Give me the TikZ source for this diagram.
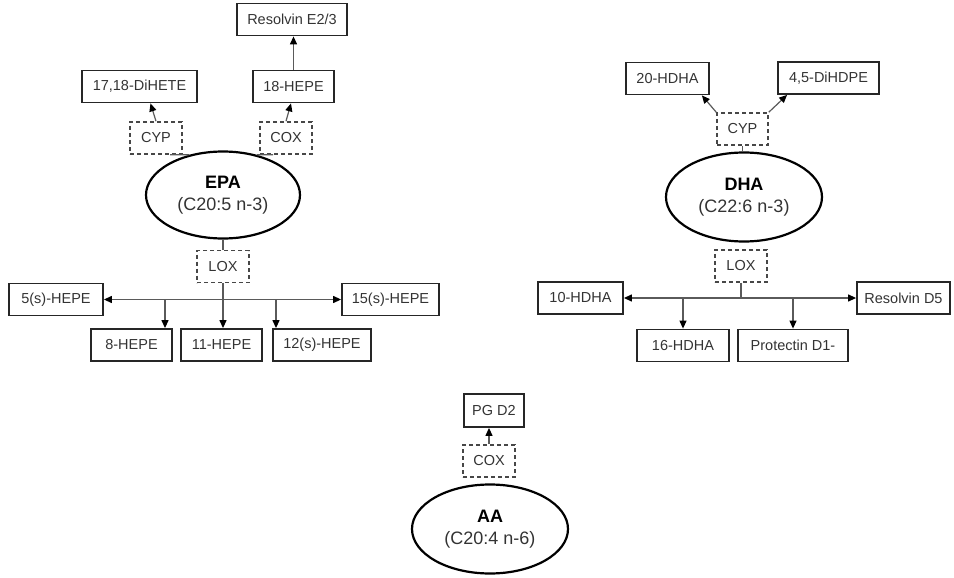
\documentclass[tikz,border=0pt]{standalone}
\usepackage{fontspec}
\setmainfont{Liberation Sans}
\usetikzlibrary{arrows.meta,calc,shapes.geometric}
\definecolor{txt}{HTML}{333333}
\definecolor{edge}{HTML}{262626}
\definecolor{conn}{HTML}{5A5A5A}
\tikzset{
  prodbox/.style={draw=edge, line width=1.8pt, inner sep=0pt, text=txt, font=\fontsize{14.5}{16}\selectfont, minimum height=32},
  enzbox/.style={draw=edge!85, line width=1.6pt, dash pattern=on 4pt off 3pt, inner sep=0pt, text=txt, font=\fontsize{14.5}{16}\selectfont, minimum width=52, minimum height=32},
  acid/.style={draw=black, line width=2.2pt, ellipse, inner sep=0pt, text=txt, align=center, font=\fontsize{18}{22}\selectfont, minimum width=154, minimum height=87},
  link/.style={draw=conn, line width=1.2pt},
  tip/.tip={Triangle[length=8pt,width=7pt,fill=black,color=black]},
  arr/.style={link, -tip},
  darr/.style={link, tip-tip}
}
\begin{document}
\begin{tikzpicture}[x=1pt,y=-1pt]
\useasboundingbox (0,0) rectangle (954,578);
% EPA group
\node[prodbox, minimum width=110] (resE) at (292,19.5) {Resolvin E2/3};
\node[prodbox, minimum width=115] (diHETE) at (139.5,86.5) {17,18-DiHETE};
\node[prodbox, minimum width=81] (hepe18) at (293.5,86.5) {18-HEPE};
\node[enzbox] (cypE) at (156,138) {CYP};
\node[enzbox] (coxE) at (286,138) {COX};
\node[acid] (EPA) at (223,195) {\textcolor{black}{\textbf{EPA}}\\(C20:5 n-3)};
\node[enzbox] (loxE) at (223,266.5) {LOX};
\node[prodbox, minimum width=94] (hepe5) at (56,299.5) {5(s)-HEPE};
\node[prodbox, minimum width=97] (hepe15) at (390.5,299.5) {15(s)-HEPE};
\node[prodbox, minimum width=81] (hepe8) at (131.5,345) {8-HEPE};
\node[prodbox, minimum width=81] (hepe11) at (221.5,345) {11-HEPE};
\node[prodbox, minimum width=98] (hepe12) at (322,345) {12(s)-HEPE};
\coordinate (j8) at (165,299.5);
\coordinate (j12) at (276,299.5);
% EPA connectors
\draw[link] (EPA.130) -- ($(cypE.south)+(14,0)$);
\draw[link] (EPA.50) -- ($(coxE.south)+(-13,0)$);
\draw[arr] (cypE.north) -- ($(diHETE.south)+(11,0)$);
\draw[arr] (coxE.north) -- ($(hepe18.south)+(-2.5,0)$);
\draw[arr] (hepe18.north) -- (hepe18.north |- resE.south);
\draw[link] (EPA.south) -- (loxE.north);
\draw[darr] (hepe5.east) -- (hepe15.west);
\draw[arr] (loxE.south) -- (loxE.south |- hepe11.north);
\draw[arr] (j8) -- (j8 |- hepe8.north);
\draw[arr] (j12) -- (j12 |- hepe12.north);
% DHA group
\node[prodbox, minimum width=83] (hdha20) at (667.5,78.5) {20-HDHA};
\node[prodbox, minimum width=101] (dihdpe) at (828.5,78) {4,5-DiHDPE};
\node[enzbox, minimum width=51] (cypD) at (742.5,129) {CYP};
\node[acid, minimum width=156, minimum height=89] (DHA) at (744,197) {\textcolor{black}{\textbf{DHA}}\\(C22:6 n-3)};
\node[enzbox] (loxD) at (741,266) {LOX};
\node[prodbox, minimum width=85] (hdha10) at (580.5,298) {10-HDHA};
\node[prodbox, minimum width=93] (resD5) at (903.5,298) {Resolvin D5};
\node[prodbox, minimum width=92] (hdha16) at (683,345.5) {16-HDHA};
\node[prodbox, minimum width=110] (protD1) at (793,345.5) {Protectin D1-};
\coordinate (jD) at (741,298);
% DHA connectors
\draw[arr] (cypD.north west) -- ($(hdha20.south east)+(-8,0)$);
\draw[arr] (cypD.north east) -- ($(dihdpe.south west)+(10,0)$);
\draw[link] (cypD.south) -- (cypD.south |- DHA.north);
\draw[link] (DHA.south) -- (DHA.south -| loxD.north);
\draw[link] (loxD.south) -- (jD);
\draw[darr] (hdha10.east) -- (resD5.west);
\draw[arr] (hdha16.north |- jD) -- (hdha16.north);
\draw[arr] (protD1.north |- jD) -- (protD1.north);
% AA group
\node[prodbox, minimum width=60, minimum height=33] (pgd2) at (494,410.5) {PG D2};
\node[enzbox] (coxA) at (489,461) {COX};
\node[acid, minimum width=156, minimum height=89] (AA) at (490,529) {\textcolor{black}{\textbf{AA}}\\(C20:4 n-6)};
\draw[link] (AA.north) -- (AA.north -| coxA.south);
\draw[arr] (coxA.north) -- ($(pgd2.south)+(-5,0)$);
\end{tikzpicture}
\end{document}
